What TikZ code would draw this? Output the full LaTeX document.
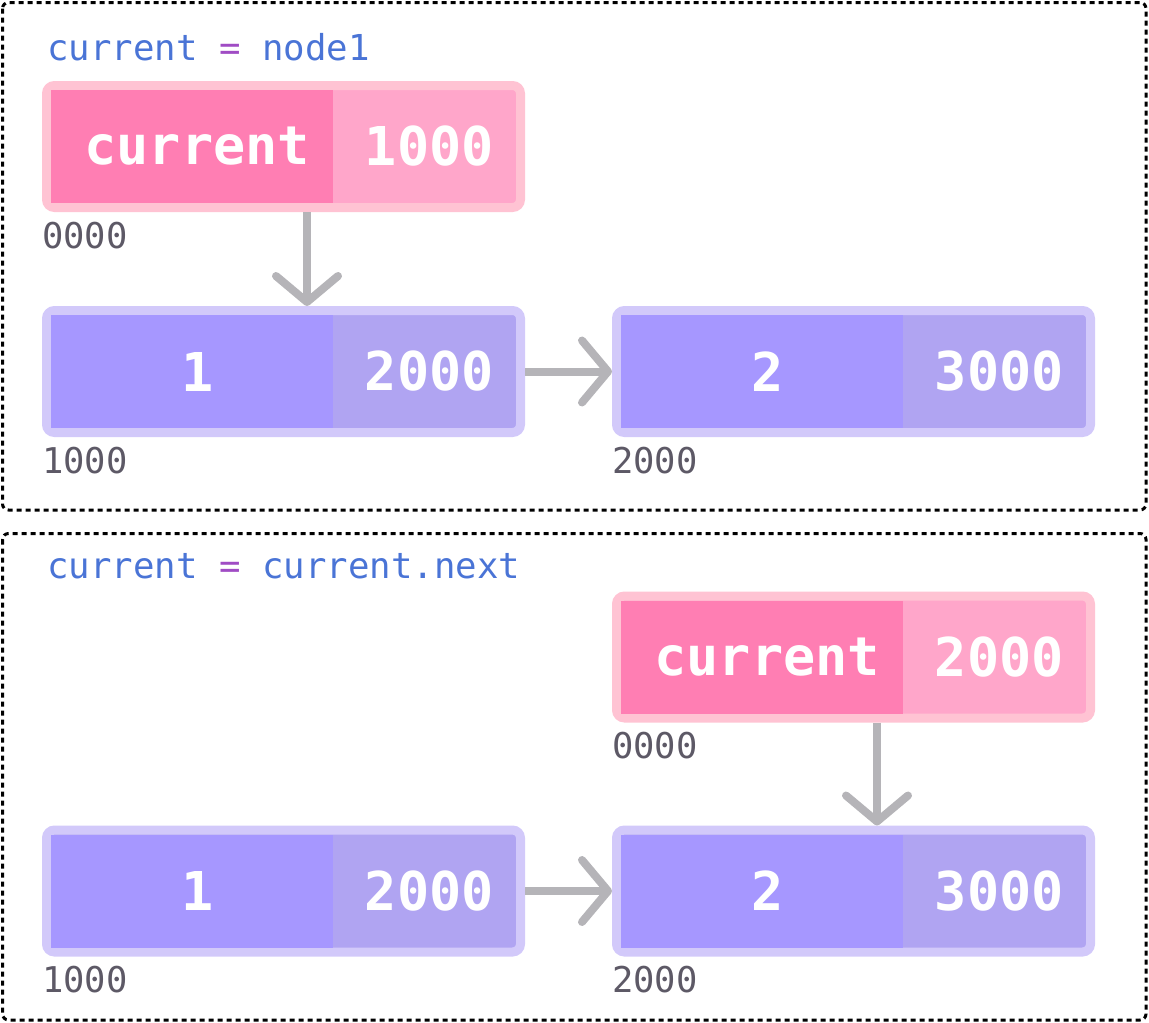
\documentclass[tikz,border=0pt]{standalone}
\usepackage{fontspec}
\setmonofont{DejaVu Sans Mono}
\usetikzlibrary{arrows.meta, positioning}
\definecolor{codeblue}{HTML}{4A74D6}
\definecolor{codepurple}{HTML}{A04CC4}
\definecolor{ptrdark}{HTML}{FF7EB3}
\definecolor{ptrlight}{HTML}{FFA6CA}
\definecolor{ptredge}{HTML}{FFC3D3}
\definecolor{nodedark}{HTML}{A697FF}
\definecolor{nodelight}{HTML}{B0A4F2}
\definecolor{nodeedge}{HTML}{D2C9FA}
\definecolor{linkgray}{HTML}{B5B4B8}
\definecolor{addrgray}{HTML}{5D5966}

\tikzset{
  frame/.style={draw=black, line width=3pt, dash pattern=on 5pt off 4pt, rounded corners=6pt},
  box/.style={rectangle, line width=9pt, rounded corners=8pt, minimum width=474pt, minimum height=122pt, inner sep=0pt},
  ptrbox/.style={box, draw=ptredge, fill=ptrlight},
  nodebox/.style={box, draw=nodeedge, fill=nodelight},
  cell/.style={rectangle, minimum height=113pt, inner sep=0pt, text=white,
    font=\ttfamily\bfseries\fontsize{53.5}{60}\selectfont, execute at begin node=\hspace*{10pt}},
  keycell/.style={cell, minimum width=282pt, anchor=west},
  valcell/.style={cell, minimum width=183pt, anchor=east},
  addr/.style={anchor=base west, inner sep=0pt, text=addrgray, font=\ttfamily\fontsize{35.5}{40}\selectfont},
  title/.style={anchor=base west, inner sep=0pt, text=codeblue, font=\ttfamily\fontsize{35.7}{42}\selectfont},
  link/.style={draw=linkgray, line width=8pt, -{Straight Barb[length=26pt, width=62pt, round]}}
}

\begin{document}
\begin{tikzpicture}[x=1pt, y=-1pt]
  \useasboundingbox (0,0) rectangle (1149,1023);

  % step 1: current = node1
  \draw[frame] (2.5,2.5) rectangle (1146,510);
  \node[title] (title1) at (47,60) {current {\color{codepurple}=} node1};

  \node[ptrbox] (cur1) at (283.5,146.5) {};
  \node[keycell, fill=ptrdark] (cur1key) at ([xshift=9pt]cur1.west) {current};
  \node[valcell] (cur1val) at ([xshift=-9pt]cur1.east) {1000};
  \node[addr] (cur1addr) at ([yshift=-36pt]cur1.south west) {0000};

  \node[nodebox] (na1) at (283.5,371.5) {};
  \node[keycell, fill=nodedark] (na1key) at ([xshift=9pt]na1.west) {1};
  \node[valcell] (na1val) at ([xshift=-9pt]na1.east) {2000};
  \node[addr] (na1addr) at ([yshift=-36pt]na1.south west) {1000};

  \node[nodebox] (nb1) at (853.5,371.5) {};
  \node[keycell, fill=nodedark] (nb1key) at ([xshift=9pt]nb1.west) {2};
  \node[valcell] (nb1val) at ([xshift=-9pt]nb1.east) {3000};
  \node[addr] (nb1addr) at ([yshift=-36pt]nb1.south west) {2000};

  \draw[link] ([xshift=23.5pt]cur1.south) -- ([xshift=23.5pt]na1.north);
  \draw[link] (na1.east) -- (nb1.west);

  % step 2: current = current.next
  \draw[frame] (2.5,533.5) rectangle (1146,1020);
  \node[title] (title2) at (47,578) {current {\color{codepurple}=} current.next};

  \node[ptrbox] (cur2) at (853.5,657) {};
  \node[keycell, fill=ptrdark] (cur2key) at ([xshift=9pt]cur2.west) {current};
  \node[valcell] (cur2val) at ([xshift=-9pt]cur2.east) {2000};
  \node[addr] (cur2addr) at ([yshift=-36pt]cur2.south west) {0000};

  \node[nodebox] (na2) at (283.5,891) {};
  \node[keycell, fill=nodedark] (na2key) at ([xshift=9pt]na2.west) {1};
  \node[valcell] (na2val) at ([xshift=-9pt]na2.east) {2000};
  \node[addr] (na2addr) at ([yshift=-36pt]na2.south west) {1000};

  \node[nodebox] (nb2) at (853.5,891) {};
  \node[keycell, fill=nodedark] (nb2key) at ([xshift=9pt]nb2.west) {2};
  \node[valcell] (nb2val) at ([xshift=-9pt]nb2.east) {3000};
  \node[addr] (nb2addr) at ([yshift=-36pt]nb2.south west) {2000};

  \draw[link] ([xshift=23.5pt]cur2.south) -- ([xshift=23.5pt]nb2.north);
  \draw[link] (na2.east) -- (nb2.west);
\end{tikzpicture}
\end{document}
